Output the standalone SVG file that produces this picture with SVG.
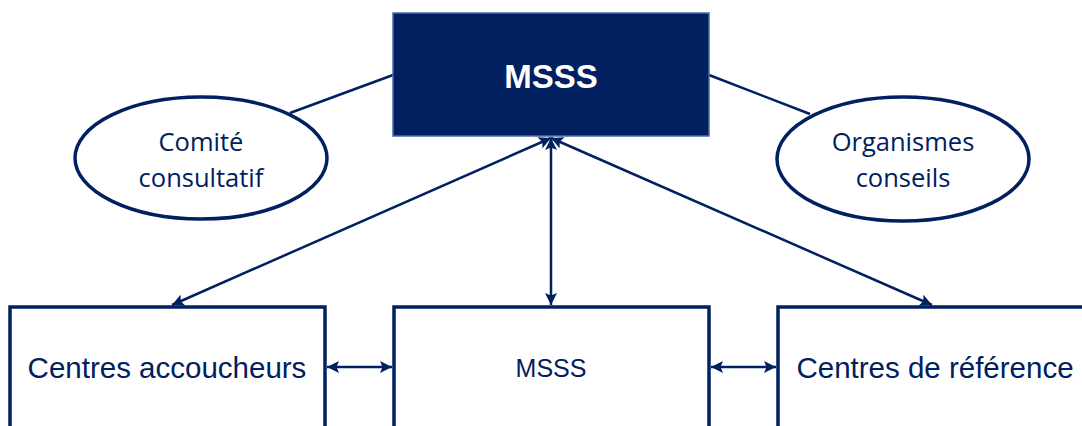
<svg xmlns="http://www.w3.org/2000/svg" width="1082" height="426" viewBox="0 0 1082 426">
<defs>
<style>
.box{fill:#ffffff;stroke:#002060;stroke-width:3.5}
.ell{fill:#ffffff;stroke:#002060;stroke-width:3.5}
.lbl{font-family:"Liberation Sans",Arial,sans-serif;font-size:29.5px;fill:#002060;text-anchor:middle}
.elbl{font-family:"Open Sans","Noto Sans",sans-serif;font-size:25.5px;fill:#002060;text-anchor:middle}
.con{fill:none;stroke:#002060;stroke-width:2.5}
</style>
<marker id="ah" viewBox="0 0 12 12" refX="12" refY="6" markerWidth="12" markerHeight="12" markerUnits="userSpaceOnUse" orient="auto-start-reverse">
<path d="M0,0 L12,6 L0,12 L2.5,6 z" fill="#002060"/>
</marker>
</defs>
<g id="connectors">
<line class="con" x1="290" y1="113" x2="393" y2="75"/>
<line class="con" x1="709" y1="75" x2="810" y2="114"/>
<line class="con" x1="551" y1="138" x2="551" y2="305" marker-start="url(#ah)" marker-end="url(#ah)"/>
<line class="con" x1="551" y1="138" x2="172" y2="305" marker-start="url(#ah)" marker-end="url(#ah)"/>
<line class="con" x1="551" y1="138" x2="932" y2="305" marker-start="url(#ah)" marker-end="url(#ah)"/>
<line class="con" x1="327" y1="367" x2="392" y2="367" marker-start="url(#ah)" marker-end="url(#ah)"/>
<line class="con" x1="711" y1="367" x2="776" y2="367" marker-start="url(#ah)" marker-end="url(#ah)"/>
</g>
<g id="msss-top">
<rect x="393" y="13" width="316" height="123" fill="#002060" stroke="#4a6aa5" stroke-width="1.5"/>
<text x="551" y="88" font-family="'Liberation Sans',Arial,sans-serif" font-size="33" font-weight="bold" fill="#ffffff" text-anchor="middle">MSSS</text>
</g>
<g id="comite">
<ellipse class="ell" cx="201" cy="158" rx="126" ry="61"/>
<text class="elbl" x="201" y="151">Comité</text>
<text class="elbl" x="201" y="187">consultatif</text>
</g>
<g id="organismes">
<ellipse class="ell" cx="903" cy="159" rx="126" ry="62"/>
<text class="elbl" x="903" y="151">Organismes</text>
<text class="elbl" x="903" y="187">conseils</text>
</g>
<g id="centres-accoucheurs">
<rect class="box" x="10" y="307" width="315" height="140"/>
<text class="lbl" x="167" y="378">Centres accoucheurs</text>
</g>
<g id="msss-bottom">
<rect class="box" x="394" y="307" width="315" height="140"/>
<text class="lbl" x="551" y="377" style="font-size:25px">MSSS</text>
</g>
<g id="centres-reference">
<rect class="box" x="778" y="307" width="315" height="140"/>
<text class="lbl" x="935" y="378">Centres de référence</text>
</g>
</svg>
